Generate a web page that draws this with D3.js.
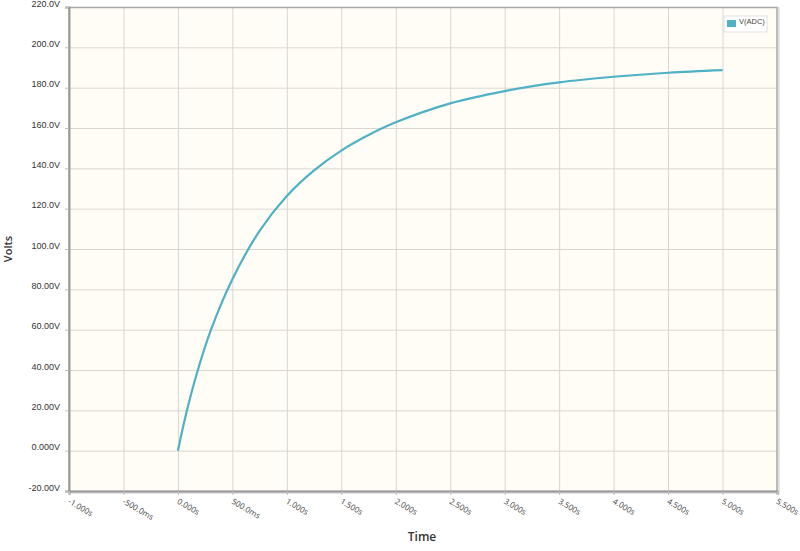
<!DOCTYPE html>
<html>
<head>
<meta charset="utf-8">
<script src="https://cdn.jsdelivr.net/npm/d3@7"></script>
<style>
  body { margin: 0; background: #fff; }
  svg { display: block; }
</style>
</head>
<body>
<svg id="chart"></svg>
<script>
// values
const seriesName = "V(ADC)";
const times = [0, 0.083, 0.183, 0.304, 0.5, 0.75, 1.0, 1.25, 1.5, 1.75, 2.0, 2.5, 3.0, 3.5, 4.0, 4.5, 5.0];
const volts = [0, 20, 40, 60, 85, 109, 126.3, 139, 148.8, 156.5, 162.8, 172.2, 178.3, 182.6, 185.4, 187.4, 188.7];
const xTicks = [-1, -0.5, 0, 0.5, 1, 1.5, 2, 2.5, 3, 3.5, 4, 4.5, 5, 5.5];
const xTickLabels = ["-1.000s", "-500.0ms", "0.000s", "500.0ms", "1.000s", "1.500s", "2.000s", "2.500s", "3.000s", "3.500s", "4.000s", "4.500s", "5.000s", "5.500s"];
const yTicks = [-20, 0, 20, 40, 60, 80, 100, 120, 140, 160, 180, 200, 220];
const yTickLabels = ["-20.00V", "0.000V", "20.00V", "40.00V", "60.00V", "80.00V", "100.0V", "120.0V", "140.0V", "160.0V", "180.0V", "200.0V", "220.0V"];

const width = 800;
const height = 551;
const margin = { top: 7, right: 23, bottom: 60, left: 69 };
const lineColor = "#4fb1c6";

const svg = d3.select("#chart")
    .attr("width", width)
    .attr("height", height);

const x = d3.scaleLinear().domain([-1, 5.5]).range([margin.left, width - margin.right]);
const y = d3.scaleLinear().domain([-20, 220]).range([height - margin.bottom, margin.top]);

const plotW = x.range()[1] - x.range()[0];
const plotH = y.range()[0] - y.range()[1];

// soft shadow behind plot frame
svg.append("rect")
    .attr("x", margin.left + 1.5)
    .attr("y", margin.top + 1.5)
    .attr("width", plotW)
    .attr("height", plotH)
    .attr("fill", "none")
    .attr("stroke", "#e4e4e4")
    .attr("stroke-width", 3);

// plot background
svg.append("rect")
    .attr("x", margin.left)
    .attr("y", margin.top)
    .attr("width", plotW)
    .attr("height", plotH)
    .attr("fill", "#fffdf6");

// grid lines
svg.append("g")
    .selectAll("line")
    .data(xTicks.slice(1, -1))
    .join("line")
    .attr("x1", d => x(d) + 0.5)
    .attr("x2", d => x(d) + 0.5)
    .attr("y1", margin.top)
    .attr("y2", y.range()[0])
    .attr("stroke", "#d9d6d0")
    .attr("stroke-width", 1);

svg.append("g")
    .selectAll("line")
    .data(yTicks.slice(1, -1))
    .join("line")
    .attr("x1", margin.left)
    .attr("x2", x.range()[1])
    .attr("y1", d => y(d) + 0.5)
    .attr("y2", d => y(d) + 0.5)
    .attr("stroke", "#d9d6d0")
    .attr("stroke-width", 1);

// frame
svg.append("rect")
    .attr("x", margin.left)
    .attr("y", margin.top + 0.5)
    .attr("width", plotW)
    .attr("height", plotH)
    .attr("fill", "none")
    .attr("stroke", "#a8a8a8")
    .attr("stroke-width", 1.5);

// y axis
const yAxis = d3.axisLeft(y)
    .tickValues(yTicks)
    .tickSize(4)
    .tickPadding(5)
    .tickFormat((d, i) => yTickLabels[i]);

const yg = svg.append("g")
    .attr("transform", `translate(${margin.left},0)`)
    .call(yAxis);
yg.select(".domain").attr("stroke", "#999").attr("stroke-width", 2);
yg.selectAll(".tick line").attr("stroke", "#bbb");
yg.selectAll(".tick text")
    .attr("font-family", "'Liberation Sans', Arial, sans-serif")
    .attr("font-size", "9px")
    .attr("fill", "#333")
    .attr("dy", "-0.1em");

// x axis
const xAxis = d3.axisBottom(x)
    .tickValues(xTicks)
    .tickSize(4)
    .tickFormat((d, i) => xTickLabels[i]);

const xg = svg.append("g")
    .attr("transform", `translate(0,${y.range()[0]})`)
    .call(xAxis);
xg.select(".domain").attr("stroke", "#999").attr("stroke-width", 2);
xg.selectAll(".tick line").attr("stroke", "#bbb");
xg.selectAll(".tick text")
    .attr("font-family", "'Open Sans', sans-serif")
    .attr("font-size", "8px")
    .attr("fill", "#444")
    .attr("text-anchor", "start")
    .attr("y", 0)
    .attr("dy", 0)
    .attr("transform", "translate(-2,12) rotate(30)");

// axis titles
svg.append("text")
    .attr("transform", `translate(12, ${(margin.top + y.range()[0]) / 2}) rotate(-90)`)
    .attr("text-anchor", "middle")
    .attr("font-family", "'Open Sans', sans-serif")
    .attr("font-size", "11px")
    .attr("font-weight", 600)
    .attr("fill", "#333")
    .text("Volts");

svg.append("text")
    .attr("x", 422)
    .attr("y", 541)
    .attr("text-anchor", "middle")
    .attr("font-family", "'Open Sans', sans-serif")
    .attr("font-size", "12px")
    .attr("font-weight", 600)
    .attr("fill", "#333")
    .text("Time");

// series line
const line = d3.line()
    .x((d, i) => x(times[i]))
    .y(d => y(d))
    .curve(d3.curveCatmullRom.alpha(0.5));

svg.append("path")
    .datum(volts)
    .attr("d", line)
    .attr("fill", "none")
    .attr("stroke", lineColor)
    .attr("stroke-width", 2.2)
    .attr("stroke-linejoin", "round");

// legend
const legend = svg.append("g").attr("transform", "translate(724,16)");
legend.append("rect")
    .attr("width", 43)
    .attr("height", 16)
    .attr("fill", "#fff")
    .attr("stroke", "#e2e2e2");
legend.append("rect")
    .attr("x", 3)
    .attr("y", 4)
    .attr("width", 9)
    .attr("height", 7)
    .attr("fill", lineColor);
legend.append("text")
    .attr("x", 15)
    .attr("y", 8)
    .attr("font-family", "'Liberation Sans', Arial, sans-serif")
    .attr("font-size", "7.5px")
    .attr("fill", "#444")
    .text(seriesName);
</script>
</body>
</html>
